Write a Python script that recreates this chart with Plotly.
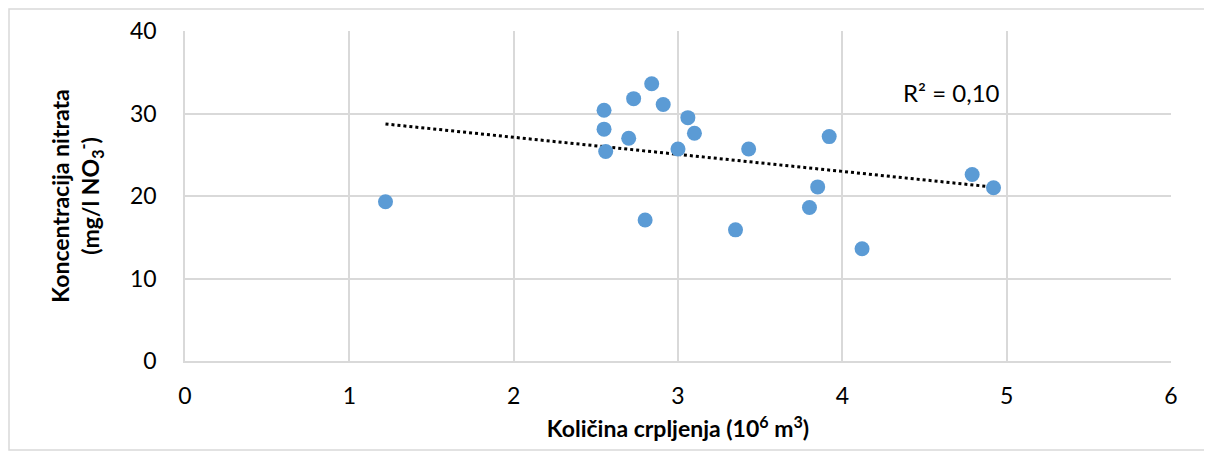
import numpy as np
import plotly.graph_objects as go

# === données ===
kolicina = [1.22, 2.55, 2.55, 2.56, 2.73, 2.84, 2.91, 2.70, 2.80, 3.00,
            3.06, 3.10, 3.35, 3.43, 3.92, 3.85, 3.80, 4.12, 4.79, 4.92]
nitrati = [19.3, 30.4, 28.1, 25.4, 31.8, 33.6, 31.1, 27.0, 17.1, 25.7,
           29.5, 27.6, 15.9, 25.7, 27.2, 21.1, 18.6, 13.6, 22.6, 21.0]
x_ticks = [0, 1, 2, 3, 4, 5, 6]
y_ticks = [0, 10, 20, 30, 40]
r2_label = "R² = 0,10"

FONT = "Lato, 'Open Sans', sans-serif"

# tendance linéaire (comme Excel)
a, b = np.polyfit(kolicina, nitrati, 1)
x_tr = np.array([min(kolicina), max(kolicina)])
y_tr = a * x_tr + b

fig = go.Figure()
fig.add_trace(go.Scatter(
    x=x_tr, y=y_tr, mode="lines",
    line=dict(color="black", width=3, dash="dot"),
    showlegend=False, hoverinfo="skip"
))
fig.add_trace(go.Scatter(
    x=kolicina, y=nitrati, mode="markers",
    marker=dict(color="#5B9BD5", size=15),
    showlegend=False
))

# la page ajoute ~8px de marge (body) -> on compense
fig.update_layout(
    width=1204, height=449,
    margin=dict(l=177, r=41, t=23, b=96),
    paper_bgcolor="white", plot_bgcolor="white",
    font=dict(family=FONT, size=23, color="#000000"),
    xaxis=dict(
        range=[0, 6], tickvals=x_ticks, showgrid=True, gridcolor="#D9D9D9",
        gridwidth=1.5, zeroline=False, showline=True, linecolor="#D9D9D9",
        linewidth=1.5, ticks="", ticklabelstandoff=14, automargin=False,
        title=dict(text="<b>Količina crpljenja (10<sup>6</sup> m<sup>3</sup>)</b>",
                   font=dict(size=23), standoff=13),
    ),
    yaxis=dict(
        range=[0, 40], tickvals=y_ticks, showgrid=True, gridcolor="#D9D9D9",
        gridwidth=1.5, zeroline=False, showline=True, linecolor="#D9D9D9",
        linewidth=1.5, ticks="", ticklabelstandoff=22, automargin=False,
        title=dict(text="<b>Koncentracija nitrata<br>(mg/l NO<sub>3</sub><sup>-</sup>)</b>",
                   font=dict(size=23), standoff=24),
    ),
    annotations=[dict(
        x=4.97, y=32.5, xref="x", yref="y", text=r2_label, showarrow=False,
        xanchor="right", yanchor="middle", font=dict(size=24)
    )],
    shapes=[dict(
        type="rect", xref="paper", yref="paper",
        x0=-0.1785, x1=1.0345, y0=-0.2697, y1=1.0667,
        line=dict(color="#D9D9D9", width=1.5), fillcolor="rgba(0,0,0,0)",
        layer="below"
    )],
)

fig.write_html("out.html")
